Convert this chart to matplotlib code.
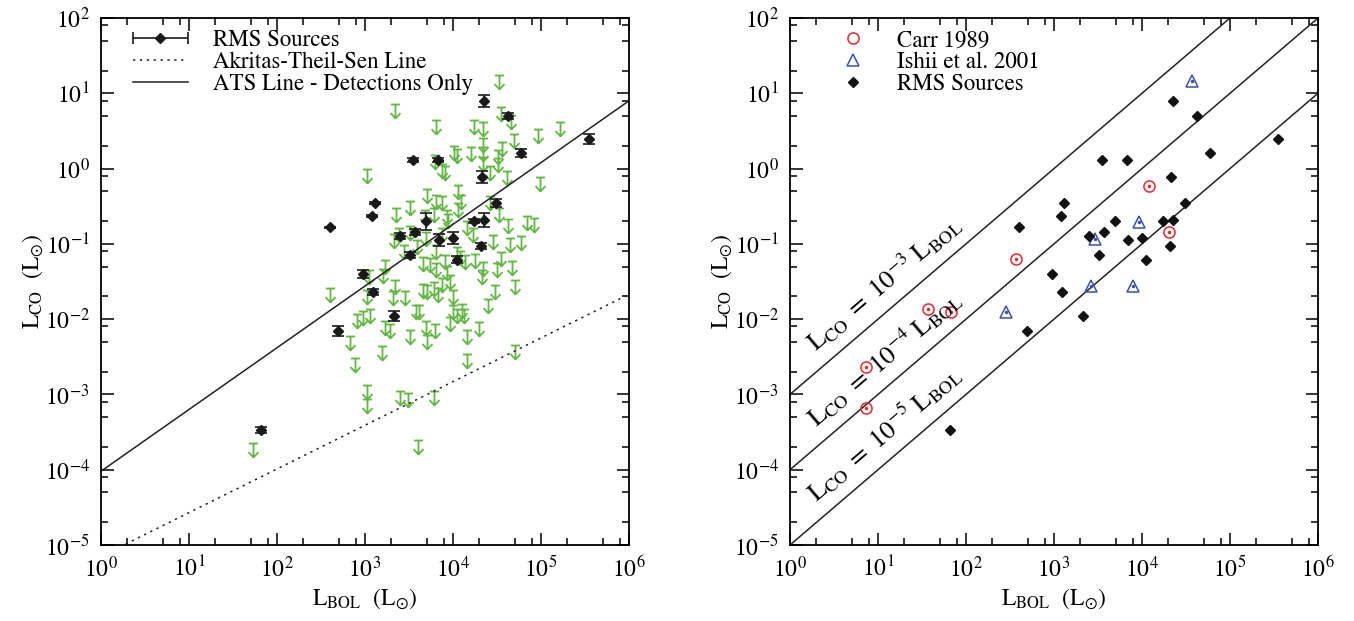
import numpy as np
import matplotlib
matplotlib.use("Agg")
import matplotlib.pyplot as plt
from matplotlib.path import Path
from matplotlib.ticker import FixedLocator, NullFormatter
from matplotlib.legend_handler import HandlerErrorbar
from matplotlib.container import ErrorbarContainer

plt.rcParams['font.family'] = ['STIXGeneral', 'DejaVu Serif']
plt.rcParams['mathtext.fontset'] = 'stix'

# RMS sources, detections (log10 values)
rms_log_lbol = [1.82, 2.60, 2.69, 2.98, 3.08, 3.09, 3.11, 3.33, 3.40, 3.51, 3.55, 3.57, 3.69,
                3.83, 3.84, 4.00, 4.05, 4.24, 4.32, 4.33, 4.35, 4.35, 4.49, 4.63, 4.77, 5.55]
rms_log_lco = [-3.47, -0.78, -2.16, -1.40, -0.63, -1.64, -0.46, -1.96, -0.90, -1.15, 0.11, -0.84, -0.70,
               0.11, -0.95, -0.92, -1.21, -0.70, -1.03, -0.11, 0.90, -0.68, -0.46, 0.70, 0.21, 0.39]
rms_err_dex = [0.04, 0.01, 0.07, 0.05, 0.015, 0.04, 0.015, 0.07, 0.04, 0.04, 0.027, 0.04, 0.11,
               0.027, 0.08, 0.08, 0.05, 0.027, 0.04, 0.08, 0.08, 0.09, 0.05, 0.04, 0.05, 0.07]

# RMS sources, upper limits
ul_log_lbol = [4.52, 3.34, 4.54, 4.66, 3.81, 4.24, 4.34, 4.97, 5.22, 4.34, 4.69, 4.56, 4.01,
               4.05, 4.21, 4.34, 4.51, 4.51, 4.34, 3.80, 3.87, 3.91, 3.02, 4.42, 4.61, 4.99,
               4.06, 3.71, 3.81, 3.88, 4.09, 4.42, 3.51, 3.35, 3.68, 3.78, 3.93, 3.94, 4.06,
               4.52, 4.63, 4.84, 4.92, 4.16, 4.23, 4.46, 4.65, 4.77, 3.39, 3.51, 3.33, 3.69,
               3.87, 3.44, 3.59, 3.81, 4.04, 3.23, 3.66, 3.74, 3.91, 4.08, 4.14, 4.25, 4.34,
               4.55, 4.50, 4.67, 3.04, 3.81, 3.93, 4.33,
               2.60, 3.02, 3.34, 3.32, 3.45, 3.21, 3.66, 3.70, 3.78, 3.83, 3.88, 3.97, 4.00,
               4.70, 4.48, 4.40, 3.58, 3.61, 2.91, 2.98, 3.06, 4.00, 4.10, 4.13, 4.04, 3.97,
               3.23, 3.28, 3.51, 3.69, 3.80, 3.70, 4.29, 4.16, 2.83, 3.19, 4.16, 4.70, 2.89,
               3.02, 3.02, 3.40, 3.49, 3.78, 3.60, 1.73]
ul_log_lco = [1.24, 0.86, 0.82, 0.71, 0.65, 0.65, 0.62, 0.52, 0.62, 0.41, 0.46, 0.35, 0.30,
              0.26, 0.28, 0.28, 0.25, 0.14, 0.16, 0.18, 0.06, 0.03, -0.01, 0.03, -0.03, -0.11,
              -0.22, -0.27, -0.35, -0.37, -0.35, -0.37, -0.43, -0.52, -0.55, -0.53, -0.55, -0.61, -0.46,
              -0.53, -0.67, -0.63, -0.65, -0.70, -0.79, -0.88, -0.92, -0.90, -0.79, -0.76, -0.87, -0.84,
              -0.79, -1.01, -0.95, -1.01, -1.04, -1.21, -1.17, -1.19, -1.15, -1.10, -1.15, -1.13, -1.24,
              -1.11, -1.26, -1.23, -1.35, -1.26, -1.30, -1.35,
              -1.59, -1.61, -1.48, -1.63, -1.63, -1.34, -1.53, -1.54, -1.51, -1.59, -1.45, -1.41, -1.61,
              -1.48, -1.54, -1.73, -1.81, -1.81, -1.93, -1.89, -1.86, -1.81, -1.80, -1.87, -1.87, -1.97,
              -2.03, -2.07, -2.14, -2.02, -2.07, -2.21, -2.04, -2.15, -2.23, -2.36, -2.46, -2.34, -2.52,
              -2.88, -3.06, -2.96, -2.98, -2.95, -3.60, -3.65]

# literature samples (right panel)
carr_log_lbol = [0.86, 0.86, 1.57, 1.83, 2.57, 4.08, 4.31]
carr_log_lco = [-2.63, -3.18, -1.86, -1.90, -1.20, -0.23, -0.84]
ishii_log_lbol = [2.45, 4.57, 3.97, 3.47, 3.42, 3.90]
ishii_log_lco = [-1.90, 1.16, -0.71, -0.93, -1.56, -1.56]

# fitted relations: log L_CO = a + b log L_BOL
ats_all = (-5.15, 0.58)
ats_det = (-4.02, 0.82)
ratios = [-3, -4, -5]

green = '#62b843'
red = '#e8262b'
blue = '#3a50b0'
black = '#1a1a1a'

rms_lbol = 10 ** np.array(rms_log_lbol)
rms_lco = 10 ** np.array(rms_log_lco)
err = np.array(rms_err_dex)
yerr = [rms_lco - rms_lco / 10 ** err, rms_lco * 10 ** err - rms_lco]

# down arrow with a bar on top, point at the bar
ul_marker = Path([(-0.33, 0), (0.33, 0), (0, 0), (0, -1), (-0.36, -0.62), (0, -1), (0.36, -0.62)],
                 [Path.MOVETO, Path.LINETO, Path.MOVETO, Path.LINETO, Path.MOVETO, Path.LINETO, Path.LINETO])

fig = plt.figure(figsize=(13.54, 6.21), dpi=100)
ax1 = fig.add_axes([101 / 1354, 76 / 621, 528 / 1354, 527 / 621])
ax2 = fig.add_axes([790 / 1354, 76 / 621, 528 / 1354, 527 / 621])

xl = np.array([1.0, 1e6])

# ---- left panel
ax1.plot(10 ** np.array(ul_log_lbol), 10 ** np.array(ul_log_lco), ls='none', marker=ul_marker,
         ms=20, mfc='none', mec=green, mew=1.3, zorder=2)
ax1.errorbar(rms_lbol, rms_lco, yerr=yerr, fmt='D', ms=5.5, color=black,
             ecolor=black, elinewidth=1.2, capsize=4, capthick=1.2, zorder=3)
h1 = ax1.errorbar([np.nan], [np.nan], xerr=[1.0], fmt='D', ms=5.5, color=black,
                  elinewidth=1.2, capsize=4, capthick=1.2, label='RMS Sources')
h2, = ax1.plot(xl, 10 ** (ats_all[0] + ats_all[1] * np.log10(xl)), color='#222222', lw=1.1,
               ls=(0, (1.5, 3)), label='Akritas-Theil-Sen Line')
h3, = ax1.plot(xl, 10 ** (ats_det[0] + ats_det[1] * np.log10(xl)), color='#222222', lw=1.1,
               label='ATS Line - Detections Only')
ax1.legend(handles=[h1, h2, h3], loc='upper left', frameon=False, fontsize=16.5,
           handlelength=2.4, handletextpad=1.1, labelspacing=0.02, borderaxespad=0.3,
           bbox_to_anchor=(0.03, 1.008),
           handler_map={ErrorbarContainer: HandlerErrorbar(xerr_size=1.2)})

# ---- right panel
for r in ratios:
    ax2.plot(xl, xl * 10.0 ** r, color='#222222', lw=1.1)
ax2.plot(10 ** np.array(carr_log_lbol), 10 ** np.array(carr_log_lco), ls='none', marker='o',
         ms=8, mfc='none', mec=red, mew=1.1)
ax2.plot(10 ** np.array(carr_log_lbol), 10 ** np.array(carr_log_lco), ls='none', marker='o',
         ms=1.5, color=red)
ax2.plot(10 ** np.array(ishii_log_lbol), 10 ** np.array(ishii_log_lco), ls='none', marker='^',
         ms=8, mfc='none', mec=blue, mew=1.1)
ax2.plot(10 ** np.array(ishii_log_lbol), 10 ** np.array(ishii_log_lco), ls='none', marker='o',
         ms=1.5, color=blue)
ax2.plot(rms_lbol, rms_lco, ls='none', marker='D', ms=5.5, color='#111111')

hc, = ax2.plot([], [], ls='none', marker='o', ms=8, mfc='none', mec=red, mew=1.1, label='Carr 1989')
hi, = ax2.plot([], [], ls='none', marker='^', ms=8, mfc='none', mec=blue, mew=1.1,
               label='Ishii et al. 2001')
hr, = ax2.plot([], [], ls='none', marker='D', ms=5.5, color='#111111', label='RMS Sources')
ax2.legend(handles=[hc, hi, hr], loc='upper left', frameon=False, fontsize=16.5,
           handlelength=1.0, handletextpad=1.42, labelspacing=0.02, borderaxespad=0.3,
           bbox_to_anchor=(0.067, 1.008))

# labels along the constant-ratio lines
lab_x = 2.0
lab_y = [3.6e-3, 3.6e-4, 3.6e-5]
for r, yy in zip(ratios, lab_y):
    ax2.text(lab_x, yy, r'$\mathrm{L_{CO}\ =\ 10^{%d}\ L_{BOL}}$' % r, rotation=40.6,
             rotation_mode='anchor', ha='left', va='baseline', fontsize=19)

# ticks only inside the plotted range
x_major = [10.0 ** k for k in range(0, 7)]
y_major = [10.0 ** k for k in range(-5, 3)]
x_minor = [s * 10.0 ** k for k in range(0, 6) for s in (2, 5, 8)]
y_minor = [s * 10.0 ** k for k in range(-5, 2) for s in (2, 5, 8)]

for ax in (ax1, ax2):
    ax.set_xscale('log')
    ax.set_yscale('log')
    ax.set_xlim(1, 1e6)
    ax.set_ylim(1e-5, 1e2)
    ax.xaxis.set_major_locator(FixedLocator(x_major))
    ax.yaxis.set_major_locator(FixedLocator(y_major))
    ax.xaxis.set_minor_locator(FixedLocator(x_minor))
    ax.yaxis.set_minor_locator(FixedLocator(y_minor))
    ax.xaxis.set_minor_formatter(NullFormatter())
    ax.yaxis.set_minor_formatter(NullFormatter())
    ax.tick_params(which='both', direction='in', top=True, right=True, labelsize=17, width=1.1)
    ax.tick_params(which='major', length=9, pad=8)
    ax.tick_params(which='minor', length=5)
    for sp in ax.spines.values():
        sp.set_linewidth(1.3)
    ax.set_xlabel(r'$\mathrm{L_{BOL}\ \ (L_{\odot})}$', fontsize=17, labelpad=3)
    ax.set_ylabel(r'$\mathrm{L_{CO}\ \ (L_{\odot})}$', fontsize=17, labelpad=0)

fig.savefig('out.png', dpi=100)
